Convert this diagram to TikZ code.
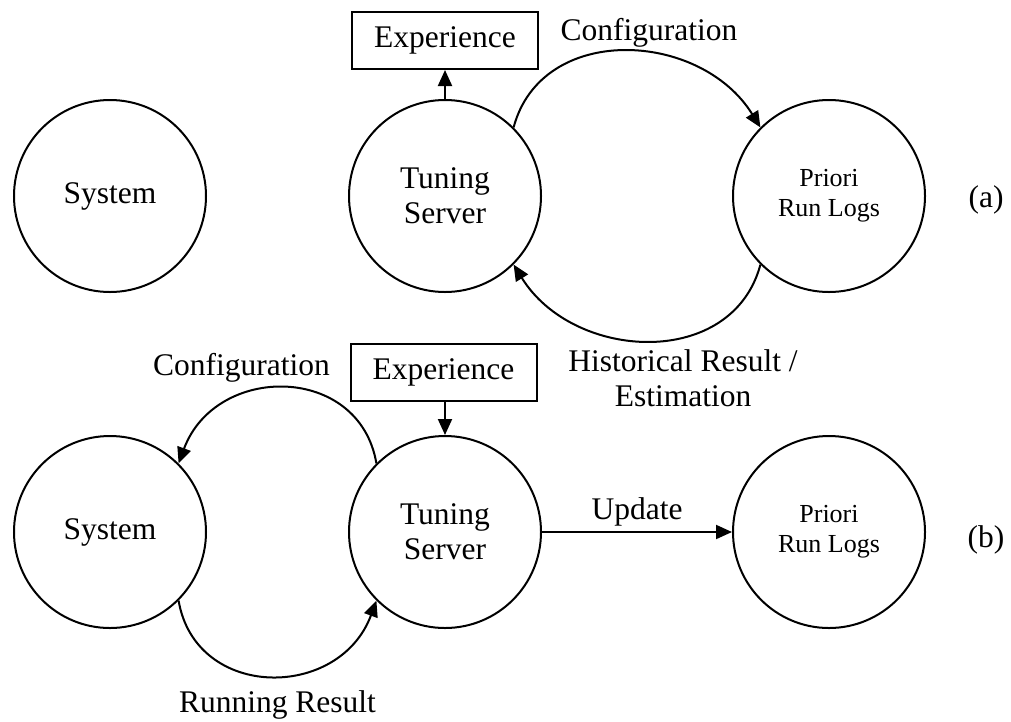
\documentclass[tikz,border=0pt]{standalone}
\usepackage{fontspec}
\setmainfont{Liberation Serif}
\usetikzlibrary{arrows.meta}

\tikzset{
  state/.style={draw, circle, line width=2pt, minimum size=192pt, inner sep=0pt,
                align=center, font=\fontsize{31.5}{35}\selectfont},
  smallstate/.style={state, font=\fontsize{26}{30}\selectfont},
  databox/.style={draw, rectangle, line width=2pt, minimum width=186pt, minimum height=57pt,
                  inner sep=0pt, font=\fontsize{31.5}{35}\selectfont},
  lbl/.style={inner sep=0pt, align=center, font=\fontsize{31.5}{35}\selectfont},
  flow/.style={line width=2pt, -{Triangle[length=16pt,width=14pt]}}
}

\begin{document}
\begin{tikzpicture}[x=1pt, y=-1pt]
\useasboundingbox (0,0) rectangle (1011,721);

% ---- (a) consulting prior run logs ----
\node[state]      (sa) at (110,196) {System};
\node[state]      (ta) at (445,196) {Tuning\\Server};
\node[smallstate] (pa) at (829,196) {Priori\\Run Logs};
\node[databox]    (ea) at (445,40.5) {Experience};
\node[lbl]        (ca) at (649,33) {Configuration};
\node[lbl]        (ha) at (683,378) {Historical Result /\\Estimation};
\node[lbl]        (la) at (986,200) {(a)};

\draw[flow] (ta.north) -- (ea.south -| ta.north);
\draw[flow] (ta.45) .. controls +(28,-105) and +(-60,-97) .. (pa.135);
\draw[flow] (pa.225) .. controls +(-28,105) and +(60,97) .. (ta.-45);

% ---- (b) tuning the live system ----
\node[state]      (sb) at (110,532) {System};
\node[state]      (tb) at (445,532) {Tuning\\Server};
\node[smallstate] (pb) at (829,532) {Priori\\Run Logs};
\node[databox]    (eb) at (443.5,372.5) {Experience};
\node[lbl]        (cb) at (241.5,368) {Configuration};
\node[lbl]        (rb) at (277.5,705) {Running Result};
\node[lbl]        (ub) at (637,512) {Update};
\node[lbl]        (lb) at (986,540) {(b)};

\draw[flow] (eb.south -| tb.north) -- (tb.north);
\draw[flow] (tb.135) .. controls +(-17,-100) and +(37,-100) .. (sb.45);
\draw[flow] (sb.-45) .. controls +(17,100) and +(-37,100) .. (tb.225);
\draw[flow] (tb.east) -- (pb.west);
\end{tikzpicture}
\end{document}
